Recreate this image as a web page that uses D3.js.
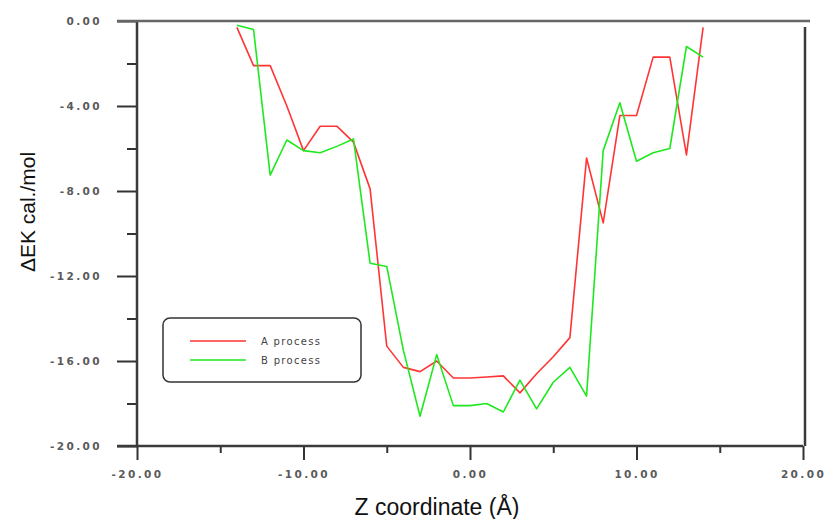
<!DOCTYPE html>
<html>
<head>
<meta charset="utf-8">
<script src="https://cdn.jsdelivr.net/npm/d3@7"></script>
<style>
  body { margin: 0; background: #fff; }
  .tick text { font-family: "DejaVu Sans", sans-serif; font-weight: bold; font-size: 10.5px; fill: #5a5a5a; letter-spacing: 2.4px; }
</style>
</head>
<body>
<div id="chart"></div>
<script>
// Z coordinate (Å), one point per Å
const zValues = [-14, -13, -12, -11, -10, -9, -8, -7, -6, -5, -4, -3, -2, -1, 0,
                 1, 2, 3, 4, 5, 6, 7, 8, 9, 10, 11, 12, 13, 14];
// ΔEK cal./mol
const processA = [-0.3, -2.1, -2.1, -4.0, -6.1, -4.95, -4.95, -5.7, -7.9, -15.3, -16.3, -16.5, -16.0, -16.8, -16.8,
                  -16.75, -16.7, -17.5, -16.6, -15.8, -14.9, -6.45, -9.5, -4.45, -4.45, -1.7, -1.7, -6.3, -0.3];
const processB = [-0.2, -0.4, -7.25, -5.6, -6.1, -6.2, -5.9, -5.55, -11.4, -11.55, -15.5, -18.6, -15.7, -18.1, -18.1,
                  -18.0, -18.4, -16.9, -18.25, -17.0, -16.3, -17.65, -6.1, -3.85, -6.6, -6.2, -6.0, -1.2, -1.7];
const seriesNames = ["A process", "B process"];
const seriesColors = ["#ff3535", "#1ee81e"];
const xTicks = [-20, -10, 0, 10, 20];
const xMinor = [-15, -5, 5, 15];
const yTicks = [0, -4, -8, -12, -16, -20];
const yMinor = [-2, -6, -10, -14, -18];

const width = 828, height = 519;
const margin = {top: 21, right: 23, bottom: 73, left: 137};

const svg = d3.select("#chart").append("svg")
    .attr("width", width)
    .attr("height", height);

const x = d3.scaleLinear().domain([-20, 20]).range([margin.left, width - margin.right - 2]);
const y = d3.scaleLinear().domain([-20, 0]).range([height - margin.bottom, margin.top]);

const fmt = d => d.toFixed(2);

// y axis: major + minor ticks
svg.append("g")
    .attr("transform", `translate(${margin.left},0)`)
    .call(d3.axisLeft(y).tickValues(yTicks).tickSize(20).tickPadding(15).tickFormat(fmt));
svg.append("g")
    .attr("transform", `translate(${margin.left},0)`)
    .call(d3.axisLeft(y).tickValues(yMinor).tickSize(10).tickFormat(""));

// x axis
svg.append("g")
    .attr("transform", `translate(0,${y(-20)})`)
    .call(d3.axisBottom(x).tickValues(xTicks).tickSize(14).tickPadding(11).tickFormat(fmt));
svg.append("g")
    .attr("transform", `translate(0,${y(-20)})`)
    .call(d3.axisBottom(x).tickValues(xMinor).tickSize(7).tickFormat(""));

svg.selectAll(".domain").remove();
svg.selectAll(".tick line").attr("stroke", "#333").attr("stroke-width", 2);

// frame
const frame = svg.append("g").attr("stroke", "#3a3a3a").attr("stroke-width", 2.5).attr("fill", "none");
frame.append("line").attr("x1", margin.left).attr("x2", margin.left).attr("y1", y(0)).attr("y2", y(-20));
frame.append("line").attr("x1", margin.left - 20).attr("x2", x(20)).attr("y1", y(-20)).attr("y2", y(-20));
frame.append("line").attr("x1", margin.left - 20).attr("x2", x(20) + 7).attr("y1", y(0)).attr("y2", y(0))
    .attr("stroke", "#666");
frame.append("line").attr("x1", x(20) + 2).attr("x2", x(20) + 2).attr("y1", y(0) + 6).attr("y2", y(-20));

// series
const line = d3.line()
    .x((d, i) => x(zValues[i]))
    .y(d => y(d));

[processA, processB].forEach((s, k) => {
    svg.append("path")
        .datum(s)
        .attr("fill", "none")
        .attr("stroke", seriesColors[k])
        .attr("stroke-width", 1.6)
        .attr("stroke-linejoin", "round")
        .attr("d", line);
});

// legend
const legend = svg.append("g").attr("transform", "translate(163,318)");
legend.append("rect")
    .attr("width", 198).attr("height", 64)
    .attr("rx", 7).attr("ry", 7)
    .attr("fill", "#fff")
    .attr("stroke", "#333")
    .attr("stroke-width", 1.5);
seriesNames.forEach((name, i) => {
    legend.append("line")
        .attr("x1", 27).attr("x2", 83)
        .attr("y1", 23 + i * 19).attr("y2", 23 + i * 19)
        .attr("stroke", seriesColors[i])
        .attr("stroke-width", 1.6);
    legend.append("text")
        .attr("x", 98).attr("y", 27 + i * 19)
        .attr("font-family", "DejaVu Sans, sans-serif")
        .attr("font-size", 10)
        .attr("letter-spacing", 1.3)
        .attr("fill", "#444")
        .text(name);
});

// axis titles
svg.append("text")
    .attr("x", 437).attr("y", 515)
    .attr("text-anchor", "middle")
    .attr("font-family", "Liberation Sans, Arial, sans-serif")
    .attr("font-size", 23)
    .attr("fill", "#111")
    .text("Z coordinate (Å)");

svg.append("text")
    .attr("transform", "translate(35,212) rotate(-90)")
    .attr("text-anchor", "middle")
    .attr("font-family", "Liberation Sans, Arial, sans-serif")
    .attr("font-size", 21)
    .attr("fill", "#111")
    .text("ΔEK cal./mol");
</script>
</body>
</html>
